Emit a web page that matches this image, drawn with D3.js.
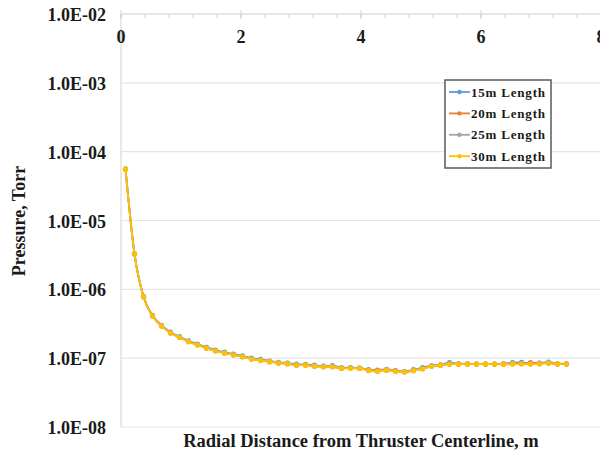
<!DOCTYPE html>
<html>
<head>
<meta charset="utf-8">
<script src="https://cdn.jsdelivr.net/npm/d3@7"></script>
<style>
  body { margin: 0; background: #fff; }
  text { font-family: "Liberation Serif", "Times New Roman", serif; font-weight: bold; fill: #1a1a1a; }
</style>
</head>
<body>
<script>
// Radial distance (m) of each probe point
var distance = [0.075, 0.225, 0.375, 0.525, 0.675, 0.825, 0.975, 1.125, 1.275, 1.425,
  1.575, 1.725, 1.875, 2.025, 2.175, 2.325, 2.475, 2.625, 2.775, 2.925,
  3.075, 3.225, 3.375, 3.525, 3.675, 3.825, 3.975, 4.125, 4.275, 4.425,
  4.575, 4.725, 4.875, 5.025, 5.175, 5.325, 5.475, 5.625, 5.775, 5.925,
  6.075, 6.225, 6.375, 6.525, 6.675, 6.825, 6.975, 7.125, 7.275, 7.425];

// Pressure (Torr) per chamber length
var p15 = [5.6e-5, 3.3e-6, 7.9e-7, 4.2e-7, 3.0e-7, 2.4e-7, 2.05e-7, 1.78e-7, 1.6e-7, 1.44e-7,
  1.31e-7, 1.22e-7, 1.15e-7, 1.08e-7, 1.0e-7, 9.6e-8, 9.1e-8, 8.7e-8, 8.5e-8, 8.2e-8,
  8.1e-8, 7.9e-8, 7.7e-8, 7.8e-8, 7.3e-8, 7.3e-8, 7.2e-8, 6.8e-8, 6.6e-8, 6.7e-8,
  6.5e-8, 6.4e-8, 6.8e-8, 7.3e-8, 7.8e-8, 8.0e-8, 8.6e-8, 8.3e-8, 8.3e-8, 8.2e-8,
  8.2e-8, 8.2e-8, 8.3e-8, 8.6e-8, 8.7e-8, 8.3e-8, 8.4e-8, 8.8e-8, 8.3e-8, 8.3e-8];
var p20 = [5.6e-5, 3.25e-6, 7.8e-7, 4.1e-7, 2.95e-7, 2.33e-7, 2.0e-7, 1.74e-7, 1.56e-7, 1.4e-7,
  1.28e-7, 1.19e-7, 1.12e-7, 1.05e-7, 9.7e-8, 9.3e-8, 8.9e-8, 8.5e-8, 8.3e-8, 7.9e-8,
  7.9e-8, 7.6e-8, 7.5e-8, 7.5e-8, 7.1e-8, 7.2e-8, 7.1e-8, 6.7e-8, 6.7e-8, 6.9e-8,
  6.6e-8, 6.3e-8, 6.6e-8, 7.0e-8, 7.6e-8, 7.9e-8, 8.2e-8, 8.2e-8, 8.2e-8, 8.2e-8,
  8.2e-8, 8.2e-8, 8.2e-8, 8.3e-8, 8.4e-8, 8.6e-8, 8.5e-8, 8.5e-8, 8.2e-8, 8.2e-8];
var p25 = [5.6e-5, 3.27e-6, 7.85e-7, 4.15e-7, 2.96e-7, 2.35e-7, 2.02e-7, 1.76e-7, 1.57e-7, 1.42e-7,
  1.29e-7, 1.2e-7, 1.13e-7, 1.06e-7, 9.8e-8, 9.4e-8, 9.0e-8, 8.6e-8, 8.4e-8, 8.0e-8,
  8.0e-8, 7.8e-8, 7.6e-8, 7.6e-8, 7.2e-8, 7.2e-8, 7.2e-8, 6.7e-8, 6.5e-8, 6.8e-8,
  6.5e-8, 6.4e-8, 6.7e-8, 7.1e-8, 7.7e-8, 8.0e-8, 8.3e-8, 8.3e-8, 8.2e-8, 8.2e-8,
  8.2e-8, 8.2e-8, 8.3e-8, 8.4e-8, 8.4e-8, 8.3e-8, 8.4e-8, 8.6e-8, 8.3e-8, 8.2e-8];
var p30 = [5.6e-5, 3.26e-6, 7.8e-7, 4.1e-7, 2.93e-7, 2.32e-7, 2.0e-7, 1.73e-7, 1.55e-7, 1.39e-7,
  1.27e-7, 1.18e-7, 1.11e-7, 1.05e-7, 9.7e-8, 9.3e-8, 8.9e-8, 8.5e-8, 8.3e-8, 7.95e-8,
  7.9e-8, 7.6e-8, 7.5e-8, 7.5e-8, 7.1e-8, 7.1e-8, 7.1e-8, 6.6e-8, 6.4e-8, 6.7e-8,
  6.4e-8, 6.3e-8, 6.6e-8, 7.0e-8, 7.6e-8, 7.9e-8, 8.2e-8, 8.2e-8, 8.2e-8, 8.2e-8,
  8.2e-8, 8.2e-8, 8.1e-8, 8.2e-8, 8.2e-8, 8.2e-8, 8.2e-8, 8.5e-8, 8.2e-8, 8.2e-8];

var seriesNames = ["15m Length", "20m Length", "25m Length", "30m Length"];
var seriesValues = [p15, p20, p25, p30];
var colors = ["#5b9bd5", "#ed7d31", "#a5a5a5", "#ffc000"];

var xTicks = [0, 2, 4, 6, 8];
var yTicks = [1e-2, 1e-3, 1e-4, 1e-5, 1e-6, 1e-7, 1e-8];
var yTickLabels = ["1.0E-02", "1.0E-03", "1.0E-04", "1.0E-05", "1.0E-06", "1.0E-07", "1.0E-08"];

var width = 600, height = 454;
var plot = {left: 121, right: 601, top: 14, bottom: 427};

var xScale = d3.scaleLinear().domain([0, 8]).range([plot.left, plot.right]);
var yScale = d3.scaleLog().domain([1e-8, 1e-2]).range([plot.bottom, plot.top]);

var svg = d3.select("body").append("svg")
    .attr("width", width)
    .attr("height", height);

// Horizontal gridlines
svg.append("g").selectAll("line")
    .data(yTicks)
  .enter().append("line")
    .attr("x1", plot.left).attr("x2", plot.right)
    .attr("y1", function(d) { return yScale(d); })
    .attr("y2", function(d) { return yScale(d); })
    .attr("stroke", "#e6e6e6")
    .attr("stroke-width", 1.2);

// Left axis line
svg.append("line")
    .attr("x1", plot.left).attr("x2", plot.left)
    .attr("y1", plot.top).attr("y2", plot.bottom)
    .attr("stroke", "#d9d9d9")
    .attr("stroke-width", 1.2);

// Top x axis: minor ticks every 0.4, majors crossing the line
var minor = d3.range(0, 8.01, 0.4);
svg.append("g").selectAll("line")
    .data(minor)
  .enter().append("line")
    .attr("x1", function(d) { return xScale(d); })
    .attr("x2", function(d) { return xScale(d); })
    .attr("y1", plot.top).attr("y2", plot.top + 4)
    .attr("stroke", "#d0d0d0");
svg.append("g").selectAll("line")
    .data(xTicks)
  .enter().append("line")
    .attr("x1", function(d) { return xScale(d); })
    .attr("x2", function(d) { return xScale(d); })
    .attr("y1", plot.top - 4).attr("y2", plot.top + 5)
    .attr("stroke", "#d0d0d0");
svg.append("line")
    .attr("x1", plot.left).attr("x2", plot.right)
    .attr("y1", plot.top).attr("y2", plot.top)
    .attr("stroke", "#d9d9d9")
    .attr("stroke-width", 1.2);

svg.append("g").selectAll("text")
    .data(xTicks)
  .enter().append("text")
    .attr("x", function(d) { return xScale(d); })
    .attr("y", 43)
    .style("text-anchor", "middle")
    .style("font-size", "18px")
    .text(function(d) { return d; });

// Y tick labels
svg.append("g").selectAll("text")
    .data(yTicks)
  .enter().append("text")
    .attr("x", 106)
    .attr("y", function(d) { return yScale(d) + 7; })
    .style("text-anchor", "end")
    .style("font-size", "18px")
    .text(function(d, i) { return yTickLabels[i]; });

// Series lines and markers
var line = d3.line()
    .x(function(d, i) { return xScale(distance[i]); })
    .y(function(d) { return yScale(d); })
    .curve(d3.curveMonotoneX);

seriesValues.forEach(function(vals, k) {
  var g = svg.append("g");
  g.append("path")
    .datum(vals)
    .attr("fill", "none")
    .attr("stroke", colors[k])
    .attr("stroke-width", 1.8)
    .attr("d", line);
  g.selectAll("circle")
    .data(vals)
  .enter().append("circle")
    .attr("cx", function(d, i) { return xScale(distance[i]); })
    .attr("cy", function(d) { return yScale(d); })
    .attr("r", 2.6)
    .attr("fill", colors[k]);
});

// Axis titles
svg.append("text")
    .attr("x", 361)
    .attr("y", 447)
    .style("text-anchor", "middle")
    .style("font-size", "18.5px")
    .text("Radial Distance from Thruster Centerline, m");

svg.append("text")
    .attr("transform", "translate(25,221) rotate(-90)")
    .style("text-anchor", "middle")
    .style("font-size", "18px")
    .text("Pressure, Torr");

// Legend
var legend = svg.append("g").attr("transform", "translate(445,80)");
legend.append("rect")
    .attr("width", 106).attr("height", 88)
    .attr("fill", "#fff")
    .attr("stroke", "#595959")
    .attr("stroke-width", 1.5);
seriesNames.forEach(function(name, k) {
  var y = 12 + k * 21.4;
  legend.append("line")
    .attr("x1", 4).attr("x2", 25)
    .attr("y1", y).attr("y2", y)
    .attr("stroke", colors[k])
    .attr("stroke-width", 1.8);
  legend.append("circle")
    .attr("cx", 14.5).attr("cy", y).attr("r", 2.2)
    .attr("fill", colors[k]);
  legend.append("text")
    .attr("x", 26).attr("y", y + 4.5)
    .style("font-size", "13px")
    .style("letter-spacing", "0.8px")
    .text(name);
});
</script>
</body>
</html>
